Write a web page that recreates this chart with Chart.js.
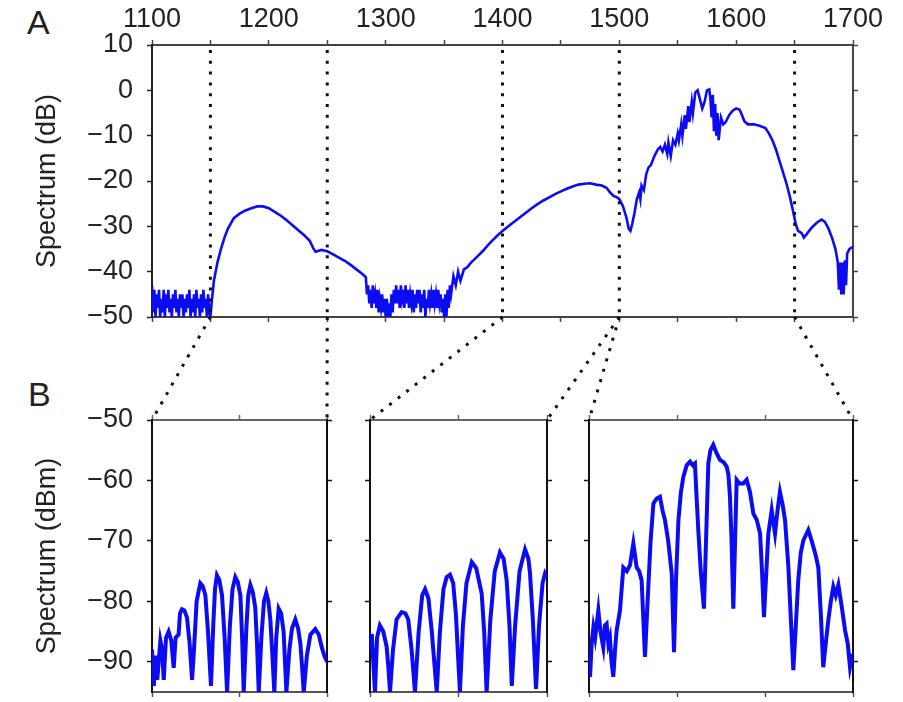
<!DOCTYPE html>
<html lang="en">
  <head>
    <meta charset="UTF-8" />
    <title>Spectrum</title>
    <script src="https://cdn.jsdelivr.net/npm/chart.js"></script>
    <style>
      body {
        margin: 0;
        width: 903px;
        height: 702px;
        position: relative;
        overflow: hidden;
        background: #fff;
        font-family: "Liberation Sans", Arial, sans-serif;
      }
      canvas { position: absolute; }
      .tag { position: absolute; font-size: 34px; line-height: 1; color: #222; }
    </style>
  </head>
  <body>
    <div class="tag" style="left: 27px; top: 5px">A</div>
    <div class="tag" style="left: 28px; top: 377px">B</div>

    <canvas id="chartA" width="903" height="335" style="left: 0; top: 0"></canvas>
    <canvas id="chartB1" width="340" height="302" style="left: 0; top: 400px"></canvas>
    <canvas id="chartB2" width="200" height="302" style="left: 358px; top: 400px"></canvas>
    <canvas id="chartB3" width="290" height="302" style="left: 577px; top: 400px"></canvas>
    <canvas id="overlay" width="903" height="702" style="left: 0; top: 0; pointer-events: none"></canvas>

    <script>
      // Panel A: broadband spectrum (nm, dB)
      const broadNm = [
        1100, 1101, 1102, 1103, 1104, 1105, 1106, 1107, 1108, 1109,
        1110, 1111, 1112, 1113, 1114, 1115, 1116, 1117, 1118, 1119,
        1120, 1121, 1122, 1123, 1124, 1125, 1126, 1127, 1128, 1129,
        1130, 1131, 1132, 1133, 1134, 1135, 1136, 1137, 1138, 1139,
        1140, 1141, 1142, 1143, 1144, 1145, 1146, 1147, 1148, 1149, 1150,
        1151, 1153, 1156, 1159, 1162, 1165, 1170, 1175, 1180, 1185, 1190, 1195,
        1200, 1205, 1210, 1215, 1220, 1225, 1230, 1235, 1238, 1240, 1245, 1250,
        1255, 1260, 1265, 1270, 1275, 1280, 1283,
        1284, 1285, 1286, 1287, 1288, 1289, 1290, 1291, 1292, 1293, 1294,
        1295, 1296, 1297, 1298, 1299, 1300, 1301, 1302, 1303, 1304,
        1305, 1306, 1307, 1308, 1309, 1310, 1311, 1312, 1313, 1314,
        1315, 1316, 1317, 1318, 1319, 1320, 1321, 1322, 1323, 1324,
        1325, 1326, 1327, 1328, 1329, 1330, 1331, 1332, 1333, 1334,
        1335, 1336, 1337, 1338, 1339, 1340, 1341, 1342, 1343, 1344,
        1345, 1346, 1347, 1348, 1349, 1350, 1351, 1352, 1353, 1354, 1355,
        1356, 1358, 1360, 1362, 1364, 1367, 1370, 1373, 1376, 1379, 1383, 1387,
        1391, 1395, 1400, 1405, 1410, 1415, 1420, 1425, 1430, 1435, 1440, 1445,
        1450, 1455, 1460, 1465, 1470, 1475, 1480, 1485, 1489, 1492, 1495, 1498,
        1500, 1503, 1506, 1508, 1509.5, 1511, 1513, 1515, 1517, 1518, 1519, 1521,
        1523, 1525, 1527, 1530, 1533, 1535, 1537, 1539, 1541, 1542, 1544, 1546,
        1548, 1550, 1551, 1553, 1554, 1556, 1557, 1559, 1560, 1562, 1563, 1565,
        1567, 1569, 1571, 1573, 1575, 1577, 1578, 1579, 1580, 1581, 1582, 1583,
        1584, 1585, 1587, 1589, 1591, 1594, 1597, 1600, 1603, 1605, 1607, 1610,
        1615, 1620, 1625, 1628, 1631, 1634, 1637, 1640, 1643, 1646, 1649, 1651,
        1653, 1656, 1658, 1661, 1665, 1669, 1673, 1676, 1679, 1682, 1685, 1687,
        1688, 1689, 1690, 1691, 1692, 1693, 1694, 1695, 1697, 1700,
      ];
      const broadDb = [
        -43, -49, -44, -50, -45, -48, -44, -50, -46, -49,
        -44, -50, -45, -48, -44, -49, -46, -50, -45, -48,
        -44, -49, -46, -50, -45, -48, -45, -50, -46, -49,
        -45, -48, -44, -50, -46, -49, -45, -50, -44, -48,
        -46, -50, -45, -49, -44, -48, -46, -50, -45, -49, -50,
        -47, -42, -38, -35, -32.5, -30.5, -28.2, -27.2, -26.5, -26, -25.6, -25.6,
        -26, -26.8, -27.6, -28.6, -29.7, -30.8, -31.9, -33.2, -34.8, -35.6, -35.2, -35.5,
        -36.2, -36.9, -37.6, -38.5, -39.5, -40.5, -41.2,
        -45, -43, -47, -44, -48, -43, -47, -45, -48, -44, -49,
        -46, -48, -45, -49, -46, -50, -46, -50, -47, -50,
        -45, -49, -44, -47, -43, -47, -44, -48, -43, -46,
        -44, -48, -43, -47, -44, -48, -45, -47, -44, -49,
        -45, -48, -44, -47, -44, -49, -45, -48, -44, -50,
        -46, -48, -44, -47, -45, -48, -44, -47, -45, -48,
        -44, -47, -45, -49, -46, -50, -45, -50, -44, -48, -43,
        -45, -41, -43, -40, -42, -39.5, -39, -38, -37.3, -36.5, -35.5, -34.3,
        -33.2, -32.2, -31, -30, -29, -28, -27, -26, -25.1, -24.3, -23.6, -22.9,
        -22.3, -21.7, -21.2, -20.8, -20.6, -20.5, -20.8, -21, -21.5, -22.5, -23.3, -23.6,
        -24, -25.5, -28, -30.5, -31, -29.5, -27, -24, -22.5, -24, -21, -22,
        -18.5, -17, -16.5, -14.5, -13, -12.5, -13.5, -12, -14, -11.5, -14.5, -11,
        -12, -9.5, -11, -7.5, -10, -5.5, -8.5, -3.5, -7, -2.5, -5, -0.5,
        0, -2, -4, -2.5, 0, 0.2, -2, -6, -1, -9, -3, -10,
        -5, -11, -6, -7.5, -7, -5.5, -4.5, -4, -4.3, -5.5, -6.8, -7.5,
        -7.5, -7.8, -8.3, -9.5, -11, -13, -15.5, -18, -20.5, -23.5, -27, -29.5,
        -31, -31.5, -32.5, -31.5, -30.2, -29.2, -28.5, -29, -30.5, -32.5, -35, -38,
        -44, -38, -45, -38, -45, -37.5, -43, -36, -35, -34.5,
      ];

      // Panel B: three zoomed windows (nm, dBm)
      const fringe1Nm = [
        1150, 1151, 1152, 1153, 1154.8, 1155.8, 1156.7, 1158, 1159.5, 1161,
        1162.4, 1163.5, 1165.2, 1166, 1167.1, 1168.5, 1170, 1171.5, 1172.9, 1174,
        1175.5, 1177.6, 1179, 1180.5, 1182, 1183.7, 1185, 1186, 1187.1, 1188.5,
        1190, 1191.5, 1192.9, 1194.5, 1196, 1197.6, 1199, 1200.5, 1201.5, 1202.4,
        1204, 1205, 1206.2, 1207.6, 1209, 1210, 1211, 1212.5, 1214, 1215.3,
        1216.5, 1217.6, 1218.8, 1219.9, 1221, 1222.4, 1223.8, 1225.2, 1226, 1226.8,
        1228.5, 1230, 1231.9, 1233.5, 1234.8, 1235.8, 1236.7, 1238.5, 1240.5, 1243.3,
        1245.3, 1247.1, 1248.5, 1250,
      ];
      const fringe1Dbm = [
        -88, -94, -89, -93, -86.5, -88, -93, -86, -85, -86.5,
        -91, -86, -85.5, -82, -81.3, -81.5, -82.7, -87, -93, -88,
        -80, -77, -77.5, -79, -85, -94, -84, -78, -75.7, -76.5,
        -79, -86, -95, -84, -78, -76, -76.8, -79, -86, -95,
        -84, -79, -77.3, -78.5, -81, -87, -95, -86, -80, -78.6,
        -80, -83, -89, -95, -86, -81.2, -82, -85, -90, -95,
        -88, -84.5, -83, -84.5, -87, -91, -95, -89, -85.5, -84.6,
        -85.5, -87.7, -89, -90,
      ];
      const fringe2Nm = [
        1400, 1401, 1402.8, 1404, 1405.6, 1407.5, 1409.4, 1410.4, 1411.3, 1413,
        1415, 1417.9, 1420, 1421.6, 1423.5, 1425.4, 1427.5, 1429.5, 1431.1, 1433,
        1434.9, 1436.3, 1437.7, 1439.5, 1441.5, 1443.3, 1445.2, 1447, 1448.5, 1450.8,
        1452.5, 1454.5, 1457.5, 1460, 1463.1, 1464.5, 1465.9, 1468, 1470.5, 1473.4,
        1475.5, 1477.2, 1478.8, 1480.1, 1482, 1484.5, 1487.6, 1489.5, 1490.4, 1492,
        1493.8, 1495.5, 1497.5, 1498.9, 1500,
      ];
      const fringe2Dbm = [
        -88, -85.4, -95, -86, -84, -85, -87.5, -91, -95, -88,
        -83, -81.8, -82, -83, -88, -95, -85, -79, -78, -79.5,
        -85, -90, -95, -85, -78, -76, -75.6, -77, -82, -95,
        -84, -77, -73.5, -74.5, -78.7, -85, -95, -83, -75, -71.9,
        -73, -76.5, -84, -94, -84, -75, -71.4, -73, -75.4, -83,
        -94.5, -84, -77, -75.4, -76,
      ];
      const fringe3Nm = [
        1500.6, 1501.5, 1502.5, 1503.5, 1505.3, 1506.5, 1508.1, 1509, 1510, 1511,
        1511.9, 1512.8, 1513.8, 1514.8, 1515.7, 1517.6, 1519.5, 1521.5, 1523.3, 1525.2,
        1527.1, 1528.5, 1529.9, 1531.8, 1533.7, 1535, 1536.6, 1538.5, 1540.3, 1541.8,
        1543.2, 1545, 1547, 1548.3, 1549.5, 1550.8, 1552.2, 1553.6, 1555.5, 1557.4,
        1559, 1560.2, 1561, 1562.1, 1563.5, 1565.3, 1566.5, 1567.8, 1569, 1570.6,
        1572.5, 1574.4, 1576.5, 1578.2, 1579.2, 1580.1, 1581, 1582, 1583, 1583.9,
        1585.5, 1587.7, 1589.6, 1591.5, 1593.4, 1595.3, 1597.2, 1598.3, 1599.4, 1600.6,
        1601.9, 1603.8, 1605.7, 1607.1, 1608.5, 1610, 1611.4, 1613.3, 1614.7, 1616.1,
        1617.5, 1618.9, 1620.3, 1621.8, 1624.6, 1626, 1627.5, 1628.9, 1630.3, 1631.7,
        1633.1, 1634.5, 1636, 1637.4, 1638.8, 1640.2, 1641.7, 1643.6, 1645.5, 1647,
        1648.3, 1649.8,
      ];
      const fringe3Dbm = [
        -92.5, -87, -84.3, -86, -81.5, -85, -87.6, -84, -83.7, -87,
        -86, -90, -92.5, -88, -84.8, -81.5, -74.4, -75, -74, -70.4,
        -74.4, -75, -76.5, -89.2, -77.6, -70, -63.8, -63, -62.7, -65,
        -66.6, -70, -75.4, -88.4, -76, -66.6, -62, -59.4, -57.5, -56.9,
        -57.5, -57.2, -62, -68.2, -75, -81.2, -70, -57.2, -55, -54.1,
        -55.5, -56.6, -57, -57.7, -59, -62.7, -70, -81.2, -70, -59.9,
        -60.5, -60.5, -59.9, -62, -65.5, -66.5, -68.8, -75, -82.6, -76,
        -68.8, -64.9, -68.8, -65, -61.9, -64, -66.6, -74.4, -83, -91.4,
        -84, -76.5, -72, -69.9, -68.2, -69.5, -71, -72.5, -74.4, -82,
        -90.9, -87, -83.1, -80, -77.6, -79, -77.3, -80.9, -84.8, -87,
        -90.9, -88.7,
      ];

      // Tick positions
      const broadNmTicks = [1100, 1150, 1200, 1250, 1300, 1350, 1400, 1450, 1500, 1550, 1600, 1650, 1700];
      const broadDbTicks = [-50, -40, -30, -20, -10, 0, 10];
      const zoomDbmTicks = [-90, -80, -70, -60, -50];
      const win1Ticks = [1150, 1200, 1250];
      const win2Ticks = [1400, 1450, 1500];
      const win3Ticks = [1500, 1550, 1600, 1650];

      // Dotted guides: wavelength in panel A -> corner of a panel B window
      const guideNm = [1150, 1250, 1400, 1500, 1650];
      const guideLinks = [
        [1150, "b1", "left"],
        [1250, "b1", "right"],
        [1400, "b2", "left"],
        [1500, "b2", "right"],
        [1500, "b3", "left"],
        [1650, "b3", "right"],
      ];

      const BLUE = "#0b0bf4";
      const FONT = { family: '"Liberation Sans", Arial, sans-serif', size: 27 };
      const minus = (v) => String(v).replace("-", "\u2212");
      const pairs = (xs, ys) => xs.map((x, i) => ({ x, y: ys[i] }));

      function axis(position, min, max, tickValues, size, spineColor, extra) {
        return Object.assign(
          {
            type: "linear",
            position,
            min,
            max,
            afterBuildTicks: (s) => {
              s.ticks = tickValues.map((v) => ({ value: v }));
            },
            afterFit: (s) => {
              if (position === "left" || position === "right") s.width = size;
              else s.height = size;
              // keep label overhang from moving the plot box
              s.paddingTop = s.paddingBottom = s.paddingLeft = s.paddingRight = 0;
            },
            border: { display: true, color: spineColor, width: 2 },
            grid: {
              display: true,
              drawOnChartArea: false,
              drawTicks: true,
              tickLength: 5,
              tickColor: spineColor,
              tickWidth: 1.5,
            },
            ticks: { display: false },
          },
          extra
        );
      }

      function baseOptions(scales) {
        return {
          responsive: false,
          animation: false,
          events: [],
          layout: { padding: 0 },
          plugins: { legend: { display: false }, tooltip: { enabled: false } },
          scales,
        };
      }

      function lineSet(xs, ys, width) {
        return {
          data: pairs(xs, ys),
          xAxisID: "x",
          yAxisID: "y",
          borderColor: BLUE,
          borderWidth: width,
          pointRadius: 0,
          tension: 0,
        };
      }

      const chartA = new Chart(document.getElementById("chartA"), {
        type: "line",
        data: { datasets: [lineSet(broadNm, broadDb, 2.6)] },
        options: baseOptions({
          x: axis("top", 1100, 1700, broadNmTicks, 45, "#444", {
            ticks: {
              display: true,
              autoSkip: false,
              maxRotation: 0,
              padding: 4,
              color: "#222",
              font: FONT,
              callback: (v) => (v % 100 === 0 ? String(v) : ""),
            },
          }),
          xb: axis("bottom", 1100, 1700, broadNmTicks, 18, "#444"),
          y: axis("left", -50, 10, broadDbTicks, 152, "#222", {
            ticks: { display: true, padding: 14, color: "#222", font: FONT, callback: minus },
            title: { display: true, text: "Spectrum (dB)", color: "#222", font: FONT, padding: { top: 31, bottom: 0 } },
          }),
          yr: axis("right", -50, 10, broadDbTicks, 50, "#444"),
        }),
      });

      function windowChart(id, xs, ys, lo, hi, ticks, sizes, withLabels) {
        const left = withLabels
          ? axis("left", -95, -50, zoomDbmTicks, sizes[0], "#111", {
              ticks: { display: true, padding: 14, color: "#222", font: FONT, callback: minus },
              title: { display: true, text: "Spectrum (dBm)", color: "#222", font: FONT, padding: { top: 31, bottom: 0 } },
            })
          : axis("left", -95, -50, zoomDbmTicks, sizes[0], "#111");
        return new Chart(document.getElementById(id), {
          type: "line",
          data: { datasets: [lineSet(xs, ys, 4)] },
          options: baseOptions({
            x: axis("bottom", lo, hi, ticks, 10, "#555"),
            xt: axis("top", lo, hi, ticks, 20, "#666"),
            y: left,
            yr: axis("right", -95, -50, zoomDbmTicks, sizes[1], "#111"),
          }),
        });
      }

      const charts = {
        b1: windowChart("chartB1", fringe1Nm, fringe1Dbm, 1150, 1250, win1Ticks, [152, 13], true),
        b2: windowChart("chartB2", fringe2Nm, fringe2Dbm, 1400, 1500, win2Ticks, [12, 11], false),
        b3: windowChart("chartB3", fringe3Nm, fringe3Dbm, 1500, 1650, win3Ticks, [12, 14], false),
      };

      // Dotted guide lines, placed from the charts' own scales
      function drawGuides() {
        const ctx = document.getElementById("overlay").getContext("2d");
        const area = chartA.chartArea;
        const xScale = chartA.scales.x;
        ctx.strokeStyle = "#111";
        ctx.lineWidth = 3;
        ctx.setLineDash([3, 7.8]);

        const seg = (x1, y1, x2, y2) => {
          ctx.beginPath();
          ctx.moveTo(x1, y1);
          ctx.lineTo(x2, y2);
          ctx.stroke();
        };

        guideNm.forEach((nm) => {
          const px = xScale.getPixelForValue(nm);
          seg(px, area.top + 5, px, area.bottom);
        });

        guideLinks.forEach(([nm, key, side]) => {
          const c = charts[key];
          const px = xScale.getPixelForValue(nm);
          const tx = c.canvas.offsetLeft + c.chartArea[side];
          const ty = c.canvas.offsetTop + c.chartArea.top;
          seg(px, area.bottom, tx, ty);
        });
      }

      drawGuides();
    </script>
  </body>
</html>
